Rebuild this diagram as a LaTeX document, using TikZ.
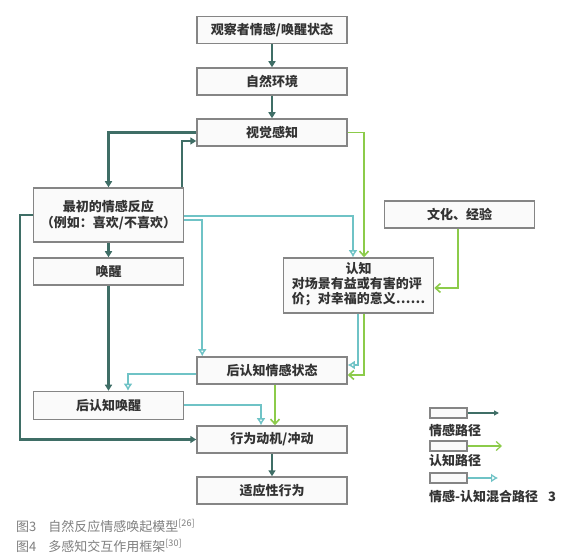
\documentclass[tikz,border=0pt]{standalone}
\usepackage{fontspec}
\setmainfont{Noto Sans CJK SC}
\usetikzlibrary{arrows.meta}
\definecolor{emoc}{HTML}{3F6E66}
\definecolor{mixc}{HTML}{6FC3C6}
\definecolor{cogc}{HTML}{8CCB4A}
\definecolor{boxgray}{HTML}{858585}
\definecolor{boxfill}{HTML}{FAFAFA}
\definecolor{txt}{HTML}{333333}
\definecolor{capc}{HTML}{808080}
\begin{document}
\begin{tikzpicture}[x=1pt,y=-1pt,
 box/.style={draw=boxgray, line width=1.5pt, fill=boxfill, minimum width=150pt, minimum height=27pt, inner sep=0pt, font=\bfseries\fontsize{13}{16}\selectfont, text=txt},
 lgbox/.style={draw=boxgray, line width=1.2pt, fill=boxfill, minimum width=37pt, minimum height=10pt, inner sep=0pt},
 lgtext/.style={anchor=west, inner sep=0pt, font=\bfseries\fontsize{13}{16}\selectfont, text=txt},
 captext/.style={anchor=west, inner sep=0pt, font=\fontsize{13}{16}\selectfont, text=capc},
 emo/.style={draw=emoc, line width=2.4pt, -{Triangle[length=6pt,width=7pt]}},
 cogn/.style={draw=cogc, line width=1.6pt, -{Straight Barb[length=5pt,width=9pt]}},
 mix/.style={draw=mixc, line width=2pt, -{Latex[open,length=7pt,width=9pt]}},
]
\useasboundingbox[fill=white] (0,0) rectangle (563,556);

\node[box] (obs) at (272,30) {观察者情感/唤醒状态};
\node[box] (env) at (272,81.5) {自然环境};
\node[box] (vis) at (272,132.5) {视觉感知};
\node[box, minimum height=54pt, align=center] (init) at (108.5,215) {最初的情感反应\\（例如：喜欢/不喜欢）};
\node[box] (aro) at (108.5,271.5) {唤醒};
\node[box] (cult) at (459.5,214.5) {文化、经验};
\node[box, minimum height=55pt] (cog) at (358.5,285.5) {\begin{tabular}{@{}l@{}}\multicolumn{1}{@{}c@{}}{认知}\\[-1pt]对场景有益或有害的评\\[-1pt]价；对幸福的意义……\end{tabular}};
\node[box] (post) at (272,370.5) {后认知情感状态};
\node[box, minimum height=28pt] (paro) at (108.5,405.5) {后认知唤醒};
\node[box] (mot) at (272,439.5) {行为动机/冲动};
\node[box] (adp) at (272,490.5) {适应性行为};

% emotional paths
\draw[emo] (obs) -- (env);
\draw[emo] (env) -- (vis);
\draw[emo] (vis.west) -| (init.north);
\draw[emo] ([xshift=-2.5pt]init.north east) |- ([yshift=-8.5pt]vis.west);
\draw[emo] (init) -- (aro);
\draw[emo] (aro) -- (paro);
\draw[emo] (init.west) -- ++(-13,0) |- (mot.west);
\draw[emo] (mot) -- (adp);

% mixed paths
\draw[mix] ([yshift=-1pt]init.east) -| ([xshift=-5.5pt]cog.north);
\draw[mix] ([yshift=-5pt]init.east) -| ([xshift=6pt]post.north west);
\draw[mix] ([xshift=-0.5pt]cog.south) |- ([yshift=5.5pt]post.east);
\draw[mix] ([yshift=-3.5pt]post.west) -| ([xshift=19.5pt]paro.north);
\draw[mix] (paro.east) -| ([xshift=-11pt]mot.north);

% cognitive paths
\draw[cogn] (vis.east) -| ([xshift=5.5pt]cog.north);
\draw[cogn] ([xshift=-1.5pt]cult.south) |- ([yshift=-2.5pt]cog.east);
\draw[cogn] ([xshift=5.5pt]cog.south) |- ([yshift=-4.5pt]post.east);
\draw[cogn] ([xshift=3pt]post.south) -- ([xshift=3pt]mot.north);

% legend
\node[lgbox] (l1) at (448.5,413) {};
\coordinate (l1e) at (499,413);
\draw[emo, line width=1.2pt, -{Triangle[length=5pt,width=5pt]}] (l1) -- (l1e);
\node[lgtext] (t1) at (429,431) {情感路径};
\node[lgbox] (l2) at (448.5,446) {};
\coordinate (l2e) at (502,446);
\draw[cogn, line width=1.2pt] (l2) -- (l2e);
\node[lgtext] (t2) at (429,461) {认知路径};
\node[lgbox] (l3) at (448.5,478) {};
\coordinate (l3e) at (498,478);
\draw[mix, line width=1.2pt] (l3) -- (l3e);
\node[lgtext] (t3) at (429,497) {情感-认知混合路径\hspace{10pt}3};

% captions
\node[captext] (c1) at (16,526) {图3\hspace{12pt}自然反应情感唤起模型\textsuperscript{[26]}};
\node[captext] (c2) at (16,546) {图4\hspace{12pt}多感知交互作用框架\textsuperscript{[30]}};
\end{tikzpicture}
\end{document}
